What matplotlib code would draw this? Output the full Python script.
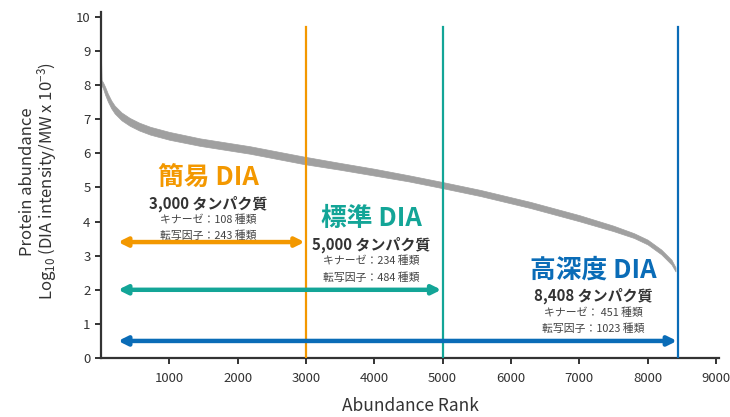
import matplotlib
matplotlib.use('Agg')
import matplotlib.pyplot as plt

plt.rcParams['font.family'] = ['Noto Sans CJK JP', 'DejaVu Sans']
plt.rcParams['mathtext.fontset'] = 'custom'
plt.rcParams['mathtext.rm'] = 'Noto Sans CJK JP'
plt.rcParams['mathtext.it'] = 'Noto Sans CJK JP'

# abundance curve (band: upper / lower edge)
rank = [0, 8, 30, 60, 100, 150, 200, 300, 420, 560, 720, 1000, 1450, 2180, 2960,
        3500, 4000, 4500, 5000, 5550, 6280, 7000, 7500, 7800, 8000, 8200, 8350,
        8408]
upper = [8.8, 8.15, 8.08, 7.95, 7.75, 7.55, 7.40, 7.20, 7.04, 6.90, 6.78, 6.63,
         6.44, 6.21, 5.91, 5.72, 5.55, 5.36, 5.16, 4.93, 4.58, 4.19, 3.88, 3.66,
         3.47, 3.18, 2.88, 2.66]
lower = [8.0, 8.0, 7.90, 7.72, 7.52, 7.32, 7.17, 6.97, 6.81, 6.67, 6.55, 6.40,
         6.22, 5.99, 5.69, 5.52, 5.35, 5.18, 4.98, 4.75, 4.40, 4.01, 3.72, 3.52,
         3.33, 3.04, 2.74, 2.54]

# DIA tiers
tier_rank = [3000, 5000, 8450]
tier_colors = ['#F39800', '#13A597', '#0A6CB7']
tier_names = ['簡易 DIA', '標準 DIA', '高深度 DIA']
tier_proteins = ['3,000 タンパク質', '5,000 タンパク質', '8,408 タンパク質']
tier_kinase = ['キナーゼ：108 種類', 'キナーゼ：234 種類', 'キナーゼ： 451 種類']
tier_tf = ['転写因子：243 種類', '転写因子：484 種類', '転写因子：1023 種類']
arrow_y = [3.4, 2.0, 0.5]
arrow_start = 250
text_x = [1570, 3960, 7200]
text_y = [5.3, 4.08, 2.58]

fig = plt.figure(figsize=(7.3, 4.17), dpi=100)
ax = fig.add_axes([0.1384, 0.1415, 0.847, 0.83])

ax.fill_between(rank, lower, upper, color='#A0A0A0', linewidth=0.5,
                edgecolor='#A0A0A0', zorder=2)

for i in range(3):
    c = tier_colors[i]
    ax.plot([tier_rank[i], tier_rank[i]], [0, 9.72], color=c, lw=1.6, zorder=3)
    ax.annotate('', xy=(tier_rank[i] - 20, arrow_y[i]), xytext=(arrow_start, arrow_y[i]),
                arrowprops=dict(arrowstyle='<|-|>', color=c, lw=3.2,
                                mutation_scale=13, shrinkA=0, shrinkB=0), zorder=4)
    x = text_x[i]
    y = text_y[i]
    ax.text(x, y, tier_names[i], color=c, fontsize=18.5, fontweight='bold',
            ha='center', va='center')
    ax.text(x, y - 0.77, tier_proteins[i], color='#333333', fontsize=10.8,
            fontweight='bold', ha='center', va='center')
    ax.text(x, y - 1.24, tier_kinase[i], color='#444444', fontsize=7.8,
            ha='center', va='center')
    ax.text(x, y - 1.72, tier_tf[i], color='#444444', fontsize=7.8,
            ha='center', va='center')

ax.set_xlim(0, 9050)
ax.set_ylim(0, 10.15)
ax.set_xticks(range(1000, 10000, 1000))
ax.set_yticks(range(0, 11))
for s in ['top', 'right']:
    ax.spines[s].set_visible(False)
for s in ['left', 'bottom']:
    ax.spines[s].set_color('#333333')
    ax.spines[s].set_linewidth(1.6)
ax.tick_params(colors='#333333', labelsize=9.5, length=4, width=1.4)
ax.tick_params(axis='x', pad=6)

ax.set_xlabel('Abundance Rank', fontsize=12.5, color='#333333', labelpad=9)
fig.text(0.037, 0.565, 'Protein abundance', rotation=90, fontsize=12,
         color='#333333', ha='center', va='center')
fig.text(0.064, 0.565, r'Log$_{10}$ (DIA intensity/MW x 10$^{-3}$)', rotation=90,
         fontsize=12, color='#333333', ha='center', va='center')

fig.savefig('out.png', dpi=100)
